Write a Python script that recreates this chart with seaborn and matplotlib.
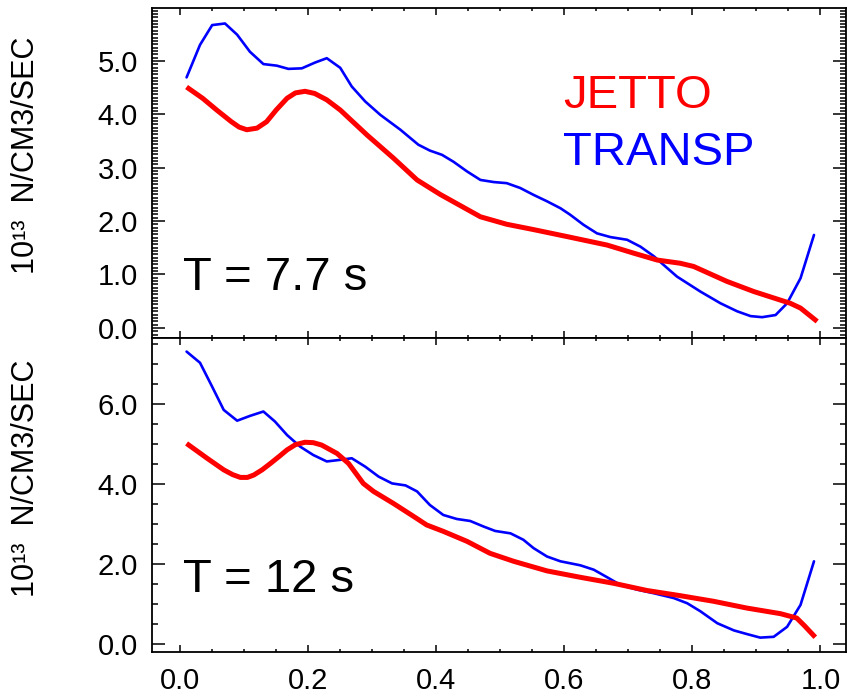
import numpy as np
import pandas as pd
import matplotlib
matplotlib.use("Agg")
import matplotlib.pyplot as plt
from matplotlib.ticker import MultipleLocator, FormatStrFormatter
import seaborn as sns

# ---------------- data ----------------
top_jetto_x = [0.01, 0.035, 0.057, 0.08, 0.092, 0.104, 0.12, 0.135, 0.15, 0.167, 0.18, 0.195,
               0.21, 0.229, 0.25, 0.292, 0.333, 0.37, 0.406, 0.469, 0.51, 0.552, 0.604,
               0.667, 0.708, 0.745, 0.781, 0.802, 0.854, 0.896, 0.953, 0.969, 0.995]
top_jetto_y = [4.51, 4.30, 4.08, 3.86, 3.76, 3.71, 3.74, 3.86, 4.08, 4.30, 4.40, 4.43,
               4.39, 4.27, 4.08, 3.61, 3.18, 2.77, 2.50, 2.08, 1.94, 1.84, 1.71,
               1.55, 1.40, 1.27, 1.21, 1.15, 0.87, 0.68, 0.46, 0.37, 0.12]

top_transp_x = [0.01, 0.031, 0.05, 0.07, 0.089, 0.109, 0.13, 0.151, 0.169, 0.19, 0.211, 0.229,
                0.25, 0.268, 0.289, 0.3125, 0.344, 0.372, 0.39, 0.409, 0.427, 0.448, 0.469,
                0.49, 0.51, 0.531, 0.552, 0.573, 0.594, 0.609, 0.630, 0.651, 0.672, 0.698,
                0.719, 0.740, 0.755, 0.776, 0.8125, 0.844, 0.870, 0.891, 0.909, 0.930, 0.948,
                0.969, 0.990]
top_transp_y = [4.69, 5.30, 5.67, 5.70, 5.49, 5.17, 4.94, 4.91, 4.85, 4.86, 4.97, 5.05,
                4.87, 4.52, 4.24, 3.99, 3.71, 3.43, 3.32, 3.24, 3.11, 2.93, 2.77,
                2.73, 2.71, 2.62, 2.49, 2.37, 2.24, 2.12, 1.93, 1.77, 1.70, 1.65,
                1.52, 1.34, 1.18, 0.96, 0.68, 0.46, 0.31, 0.22, 0.20, 0.24, 0.46,
                0.93, 1.74]

bot_jetto_x = [0.01, 0.042, 0.068, 0.082, 0.094, 0.105, 0.115, 0.128, 0.141, 0.155, 0.167,
               0.18, 0.195, 0.208, 0.221, 0.245, 0.263, 0.275, 0.286, 0.302, 0.333, 0.365,
               0.385, 0.411, 0.448, 0.484, 0.521, 0.573, 0.625, 0.677, 0.729, 0.781, 0.833,
               0.885, 0.9375, 0.963, 0.975, 0.992]
bot_jetto_y = [5.02, 4.65, 4.36, 4.24, 4.17, 4.17, 4.23, 4.36, 4.52, 4.70, 4.86,
               4.99, 5.05, 5.04, 4.98, 4.77, 4.52, 4.26, 4.02, 3.82, 3.52, 3.19,
               2.98, 2.82, 2.57, 2.27, 2.07, 1.83, 1.67, 1.52, 1.34, 1.21, 1.07,
               0.90, 0.76, 0.65, 0.46, 0.17]

bot_transp_x = [0.01, 0.031, 0.05, 0.068, 0.089, 0.109, 0.13, 0.148, 0.167, 0.1875, 0.208,
                0.229, 0.25, 0.268, 0.289, 0.31, 0.331, 0.352, 0.37, 0.39, 0.411, 0.432,
                0.453, 0.474, 0.492, 0.516, 0.536, 0.552, 0.573, 0.594, 0.625, 0.646, 0.667,
                0.6875, 0.714, 0.740, 0.771, 0.792, 0.8125, 0.839, 0.865, 0.885, 0.906,
                0.927, 0.948, 0.969, 0.990]
bot_transp_y = [7.32, 7.04, 6.44, 5.86, 5.59, 5.71, 5.82, 5.57, 5.23, 4.94, 4.73,
                4.57, 4.61, 4.65, 4.44, 4.19, 4.02, 3.97, 3.82, 3.48, 3.23, 3.13,
                3.08, 2.94, 2.83, 2.77, 2.61, 2.40, 2.19, 2.07, 1.97, 1.86, 1.67,
                1.48, 1.36, 1.27, 1.15, 1.02, 0.82, 0.52, 0.34, 0.25, 0.16,
                0.18, 0.43, 0.98, 2.07]

x_ticks = [0.0, 0.2, 0.4, 0.6, 0.8, 1.0]
top_yticks = [0.0, 1.0, 2.0, 3.0, 4.0, 5.0]
bot_yticks = [0.0, 2.0, 4.0, 6.0]
panel_labels = ["T = 7.7 s", "T = 12 s"]
series_names = ["JETTO", "TRANSP"]
ylabel_text = "10\u00b9\u00b3  N/CM3/SEC"

# ---------------- style ----------------
sns.set_style("ticks")
plt.rcParams["font.family"] = ["Liberation Sans", "DejaVu Sans"]
for k in ("text.color", "axes.labelcolor", "xtick.color", "ytick.color", "axes.edgecolor"):
    plt.rcParams[k] = "black"

RED = "#ff0000"
BLUE = "#0000ff"

fig = plt.figure(figsize=(8.47, 6.99), dpi=100)
W, H = 847, 699
left, right = 152 / W, 846 / W
ax_top = fig.add_axes([left, 1 - 338 / H, right - left, (338 - 8) / H])
ax_bot = fig.add_axes([left, 1 - 652 / H, right - left, (652 - 338) / H])

def draw(ax, jx, jy, tx, ty):
    dj = pd.DataFrame({"x": jx, "y": jy})
    dt = pd.DataFrame({"x": tx, "y": ty})
    sns.lineplot(data=dt, x="x", y="y", ax=ax, color=BLUE, linewidth=1.9, estimator=None,
                 solid_joinstyle="round")
    sns.lineplot(data=dj, x="x", y="y", ax=ax, color=RED, linewidth=3.6, estimator=None,
                 solid_joinstyle="round", solid_capstyle="butt")

draw(ax_top, top_jetto_x, top_jetto_y, top_transp_x, top_transp_y)
draw(ax_bot, bot_jetto_x, bot_jetto_y, bot_transp_x, bot_transp_y)

for ax in (ax_top, ax_bot):
    ax.set_xlim(-0.044, 1.04)
    ax.set_xlabel("")
    ax.set_ylabel("")
    ax.xaxis.set_major_locator(plt.FixedLocator(x_ticks))
    ax.xaxis.set_minor_locator(MultipleLocator(0.05))
    ax.tick_params(axis="both", which="both", direction="in", top=True, right=True,
                   width=1.1, color="black", labelcolor="black")
    ax.tick_params(axis="x", which="major", length=5)
    ax.tick_params(axis="x", which="minor", length=2.5)
    ax.tick_params(axis="y", which="major", length=9.5, labelsize=21, pad=10)
    ax.tick_params(axis="x", which="major", labelsize=21, pad=11)
    for s in ax.spines.values():
        s.set_linewidth(1.3)
        s.set_color("black")
    ax.yaxis.set_major_formatter(FormatStrFormatter("%.1f"))
    ax.xaxis.set_major_formatter(FormatStrFormatter("%.1f"))

ax_top.set_ylim(-0.19, 5.99)
ax_top.set_yticks(top_yticks)
ax_top.yaxis.set_minor_locator(MultipleLocator(0.0625))
ax_top.tick_params(axis="y", which="minor", length=4.3)
ax_top.tick_params(axis="x", labelbottom=False)

ax_bot.set_ylim(-0.2, 7.66)
ax_bot.set_yticks(bot_yticks)
ax_bot.yaxis.set_minor_locator(MultipleLocator(0.5))
ax_bot.tick_params(axis="y", which="minor", length=4.5)

ax_top.text(0.045, 0.145, panel_labels[0], transform=ax_top.transAxes, fontsize=34,
            ha="left", va="baseline", color="black")
ax_bot.text(0.045, 0.19, panel_labels[1], transform=ax_bot.transAxes, fontsize=34,
            ha="left", va="baseline", color="black")

ax_top.text(0.592, 0.697, series_names[0], transform=ax_top.transAxes, fontsize=34,
            ha="left", va="baseline", color=RED)
ax_top.text(0.592, 0.524, series_names[1], transform=ax_top.transAxes, fontsize=34,
            ha="left", va="baseline", color=BLUE)

fig.text(0.031, 1 - 155 / H, ylabel_text, rotation=90, ha="center", va="center",
         fontsize=22, color="black")
fig.text(0.031, 1 - 478 / H, ylabel_text, rotation=90, ha="center", va="center",
         fontsize=22, color="black")

fig.savefig("out.png", dpi=100)
